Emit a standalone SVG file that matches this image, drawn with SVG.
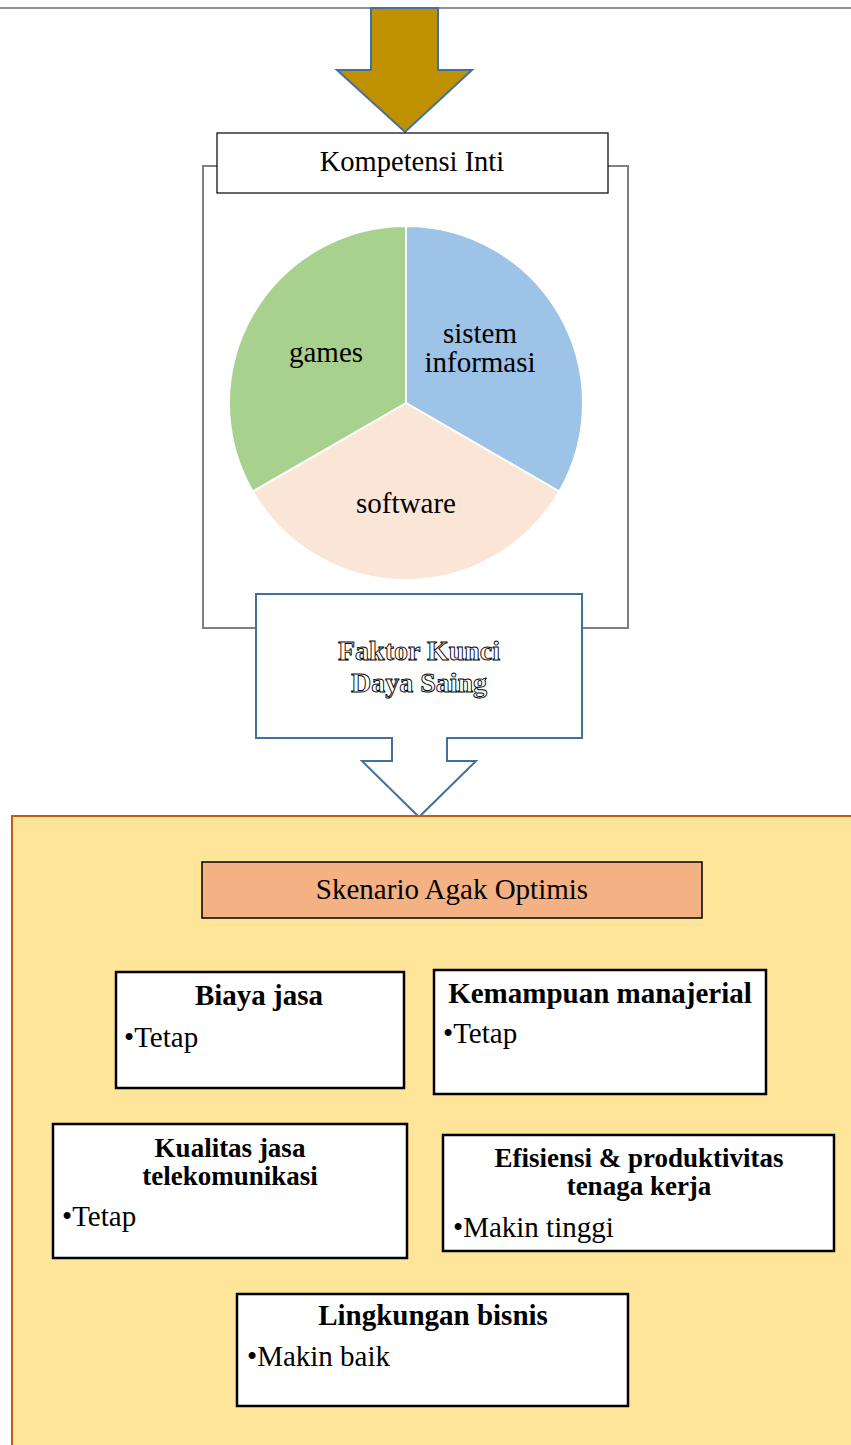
<svg xmlns="http://www.w3.org/2000/svg" width="851" height="1445" viewBox="0 0 851 1445">
<style>
text{font-family:"Liberation Serif","Times New Roman",serif;fill:#000}
.t{font-size:28.5px}
.p{font-size:29px;text-anchor:middle}
.h{font-size:29px;font-weight:bold;text-anchor:middle}
.h2{font-size:27px;font-weight:bold;text-anchor:middle}
.b{font-size:29px}
.box{fill:#fff;stroke:#000;stroke-width:2.5}
.conn{fill:none;stroke:#808080;stroke-width:2}
.outl{font-size:28px;font-weight:bold;text-anchor:middle;fill:#fff;stroke:#000;stroke-width:0.9}
</style>
<rect x="0" y="0" width="851" height="1445" fill="#fff"/>
<line x1="0" y1="8" x2="851" y2="8" stroke="#222" stroke-width="1.2"/>
<g id="connectors">
<polyline class="conn" points="217,166 203,166 203,628 256,628"/>
<polyline class="conn" points="608,166 628,166 628,628 582,628"/>
</g>
<g id="arrow-top">
<polygon points="371,8 438,8 438,70 472,70 405,132 337,70 371,70" fill="#BF9000" stroke="#41719C" stroke-width="2"/>
</g>
<g id="kompetensi">
<rect x="217" y="133" width="391" height="60" fill="#fff" stroke="#000" stroke-width="1.2"/>
<text class="t" x="412" y="171" text-anchor="middle">Kompetensi Inti</text>
</g>
<g id="pie">
<path d="M406,403 L406,226 A177,177 0 0 1 559.3,491.5 Z" fill="#9DC3E6" stroke="#fff" stroke-width="2"/>
<path d="M406,403 L559.3,491.5 A177,177 0 0 1 252.7,491.5 Z" fill="#FBE5D6" stroke="#fff" stroke-width="2"/>
<path d="M406,403 L252.7,491.5 A177,177 0 0 1 406,226 Z" fill="#A9D18E" stroke="#fff" stroke-width="2"/>
<text class="p" x="326" y="362">games</text>
<text class="p" x="480" y="343">sistem</text>
<text class="p" x="480" y="372">informasi</text>
<text class="p" x="406" y="513">software</text>
</g>
<g id="faktor">
<polygon points="256,594 582,594 582,738 447,738 447,761 476,761 419,817 362,761 392,761 392,738 256,738" fill="#fff" stroke="#41719C" stroke-width="2"/>
<text class="outl" x="419" y="660">Faktor Kunci</text>
<text class="outl" x="419" y="692">Daya Saing</text>
</g>
<g id="container">
<rect x="12" y="816" width="850" height="640" fill="#FFE599" stroke="#C55A11" stroke-width="2"/>
</g>
<g id="skenario">
<rect x="202" y="862" width="500" height="56" fill="#F4B183" stroke="#000" stroke-width="1.5"/>
<text class="p" x="452" y="899">Skenario Agak Optimis</text>
</g>
<g id="biaya">
<rect class="box" x="116" y="972" width="288" height="116"/>
<text class="h" x="259" y="1005">Biaya jasa</text>
<text class="b" x="124" y="1047">•Tetap</text>
</g>
<g id="kemampuan">
<rect class="box" x="434" y="970" width="332" height="124"/>
<text class="h" x="600" y="1003">Kemampuan manajerial</text>
<text class="b" x="443" y="1043">•Tetap</text>
</g>
<g id="kualitas">
<rect class="box" x="53" y="1124" width="354" height="134"/>
<text class="h2" x="230" y="1157">Kualitas jasa</text>
<text class="h2" x="230" y="1185">telekomunikasi</text>
<text class="b" x="62" y="1226">•Tetap</text>
</g>
<g id="efisiensi">
<rect class="box" x="443" y="1135" width="391" height="116"/>
<text class="h2" x="639" y="1167">Efisiensi &amp; produktivitas</text>
<text class="h2" x="639" y="1195">tenaga kerja</text>
<text class="b" x="453" y="1237">•Makin tinggi</text>
</g>
<g id="lingkungan">
<rect class="box" x="237" y="1294" width="391" height="112"/>
<text class="h" x="433" y="1325">Lingkungan bisnis</text>
<text class="b" x="247" y="1366">•Makin baik</text>
</g>
</svg>
